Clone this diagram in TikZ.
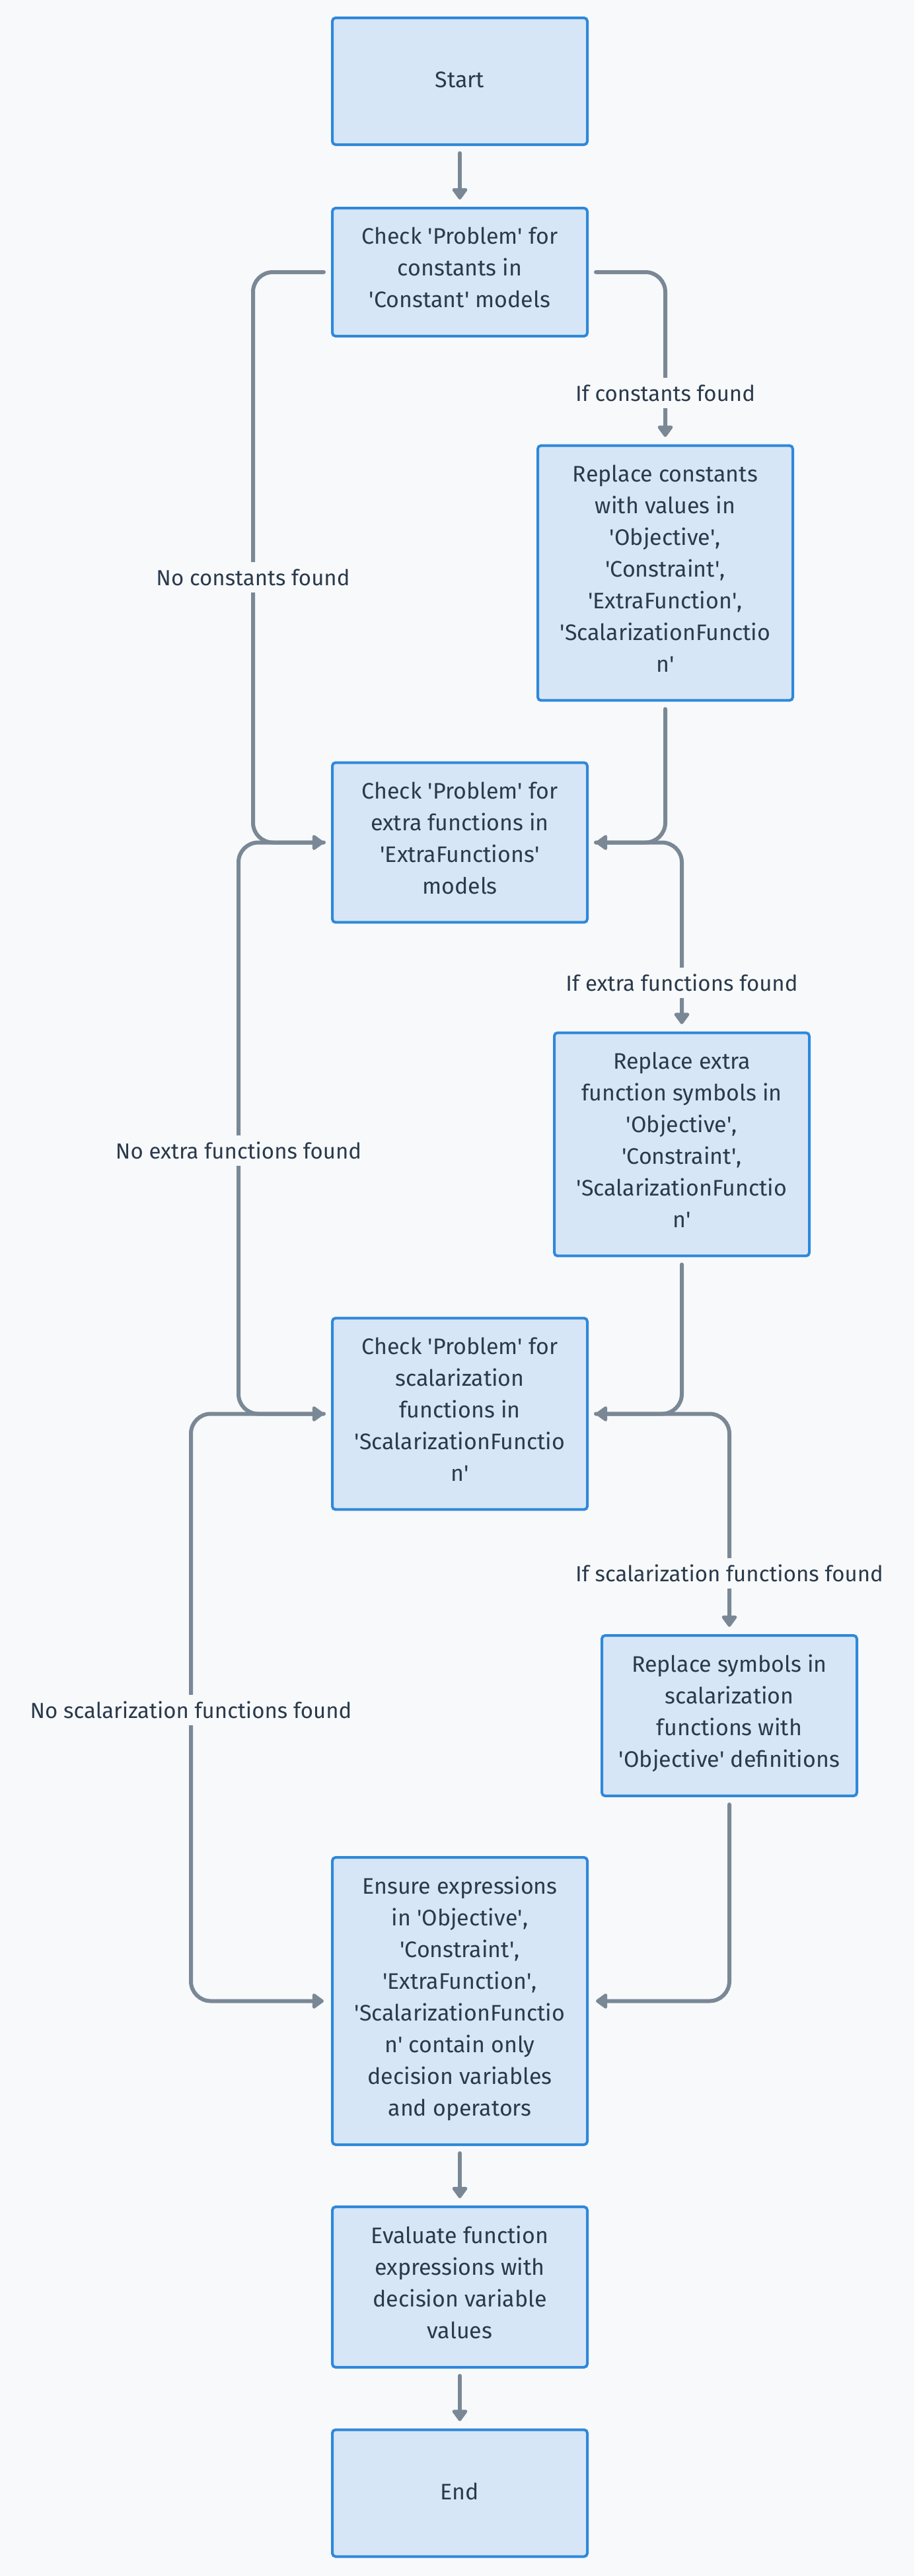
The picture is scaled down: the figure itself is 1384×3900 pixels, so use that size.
\documentclass[tikz,border=0pt]{standalone}
\usepackage{fontspec}
\setmainfont{Fira Sans}
\usetikzlibrary{arrows.meta}
\definecolor{pagebg}{HTML}{F8F9FB}
\definecolor{boxfill}{HTML}{D6E6F6}
\definecolor{boxline}{HTML}{2F88DB}
\definecolor{flowgray}{HTML}{7A8896}
\definecolor{textdark}{HTML}{2A3A4B}
\newcommand{\qs}{\textquotesingle}
\tikzset{
  process/.style={draw=boxline, fill=boxfill, line width=4pt, rounded corners=5pt,
    minimum width=386pt, minimum height=192pt, inner xsep=20pt, inner ysep=29pt,
    outer sep=13pt, align=center, text=textdark,
    font=\fontsize{34}{48}\selectfont,
    execute at begin node=\strut, execute at end node=\strut},
  flow/.style={draw=flowgray, line width=6pt, line cap=round, rounded corners=30pt,
    -{Triangle[length=19pt,width=26pt,round]}},
  cond/.style={fill=pagebg, text=textdark, font=\fontsize{33}{36}\selectfont, inner sep=10pt}
}
\begin{document}
\begin{tikzpicture}[x=1pt, y=-1pt]
  \fill[pagebg] (0,0) rectangle (1384,3900);
  % steps
  \node[process] (start) at (696,123) {Start};
  \node[process] (chkcst) at (696,412) {Check \qs Problem\qs{} for\\constants in\\\qs Constant\qs{} models};
  \node[process] (repcst) at (1007,867.5) {Replace constants\\with values in\\\qs Objective\qs,\\\qs Constraint\qs,\\\qs ExtraFunction\qs,\\\qs ScalarizationFunctio\\n\qs};
  \node[process] (chkextra) at (696,1275.5) {Check \qs Problem\qs{} for\\extra functions in\\\qs ExtraFunctions\qs\\models};
  \node[process] (repextra) at (1032,1732.5) {Replace extra\\function symbols in\\\qs Objective\qs,\\\qs Constraint\qs,\\\qs ScalarizationFunctio\\n\qs};
  \node[process] (chkscal) at (696,2140.5) {Check \qs Problem\qs{} for\\scalarization\\functions in\\\qs ScalarizationFunctio\\n\qs};
  \node[process] (repscal) at (1104,2597.5) {Replace symbols in\\scalarization\\functions with\\\qs Objective\qs{} definitions};
  \node[process] (ensure) at (696,3029.5) {Ensure expressions\\in \qs Objective\qs,\\\qs Constraint\qs,\\\qs ExtraFunction\qs,\\\qs ScalarizationFunctio\\n\qs{} contain only\\decision variables\\and operators};
  \node[process] (evalf) at (696,3462.5) {Evaluate function\\expressions with\\decision variable\\values};
  \node[process] (finish) at (696,3774.5) {End};
  % lanes on the left
  \coordinate (lanecst) at (383,874);
  \coordinate (laneextra) at (361,1742);
  \coordinate (lanescal) at (289,2589);
  % connectors
  \draw[flow] (start) -- (chkcst);
  \draw[flow] (chkcst.east) -| (repcst.north);
  \draw[flow] (chkcst.west) -| (lanecst) |- (chkextra.west);
  \draw[flow] (repcst.south) |- (chkextra.east);
  \draw[flow] (chkextra.east) -| (repextra.north);
  \draw[flow] (chkextra.west) -| (laneextra) |- (chkscal.west);
  \draw[flow] (repextra.south) |- (chkscal.east);
  \draw[flow] (chkscal.east) -| (repscal.north);
  \draw[flow] (chkscal.west) -| (lanescal) |- (ensure.west);
  \draw[flow] (repscal.south) |- (ensure.east);
  \draw[flow] (ensure) -- (evalf);
  \draw[flow] (evalf) -- (finish);
  % labels
  \node[cond] (ifcst) at (1007,595) {If constants found};
  \node[cond] (nocst) at (lanecst) {No constants found};
  \node[cond] (ifextra) at (1032,1488) {If extra functions found};
  \node[cond] (noextra) at (laneextra) {No extra functions found};
  \node[cond] (ifscal) at (1104,2382) {If scalarization functions found};
  \node[cond] (noscal) at (lanescal) {No scalarization functions found};
\end{tikzpicture}
\end{document}
